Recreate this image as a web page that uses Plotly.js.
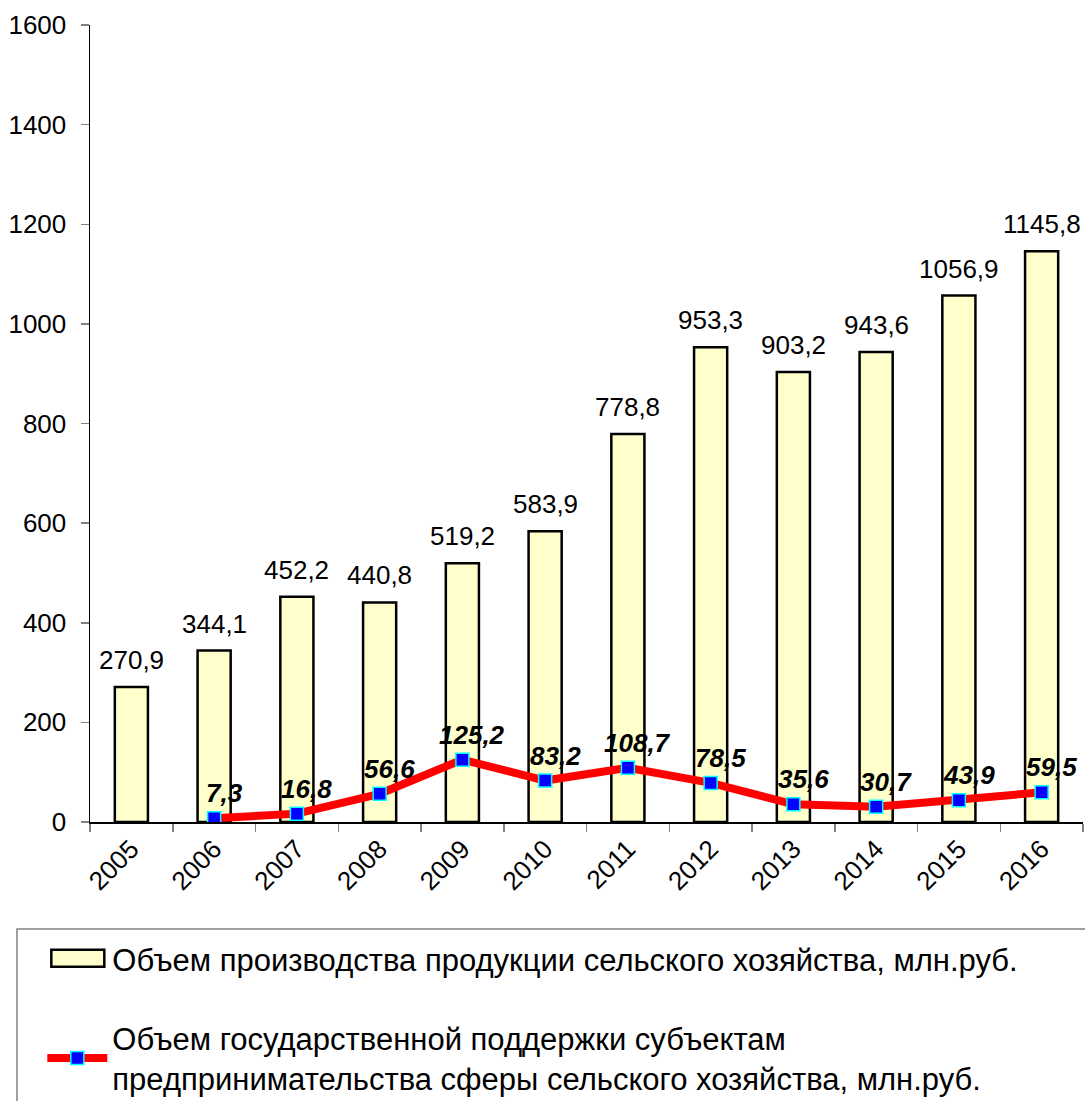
<!DOCTYPE html>
<html>
<head>
<meta charset="utf-8">
<script src="https://cdn.plot.ly/plotly-3.0.1.min.js"></script>
<style>html,body{margin:0;padding:0;background:#fff;}#chart{width:1085px;height:1101px;}</style>
</head>
<body>
<div id="chart"></div>
<script>
const years = ['2005','2006','2007','2008','2009','2010','2011','2012','2013','2014','2015','2016'];
const production = [270.9, 344.1, 452.2, 440.8, 519.2, 583.9, 778.8, 953.3, 903.2, 943.6, 1056.9, 1145.8];
const supportYears = ['2006','2007','2008','2009','2010','2011','2012','2013','2014','2015','2016'];
const support = [7.3, 16.8, 56.6, 125.2, 83.2, 108.7, 78.5, 35.6, 30.7, 43.9, 59.5];
const productionName = 'Объем производства продукции сельского хозяйства, млн.руб.';
const supportName = 'Объем государственной поддержки субъектам<br>предпринимательства сферы сельского хозяйства, млн.руб.';

const fmt = v => v.toFixed(1).replace('.', ',');
const FONT = 'Liberation Sans, Arial, sans-serif';

const traces = [
  {
    type: 'bar', x: years, y: production, name: productionName,
    legendgroup: 'a',
    marker: {color: '#FFFFCC', line: {color: '#000000', width: 2.5}},
    width: 0.4, hoverinfo: 'skip'
  },
  {
    type: 'scatter', mode: 'lines+markers', x: supportYears, y: support, name: supportName,
    legendgroup: 'b',
    line: {color: '#FF0000', width: 8},
    marker: {symbol: 'square', size: 13, color: '#0000FF', line: {color: '#00FFFF', width: 1.5}},
    hoverinfo: 'skip'
  }
];

const annotations = [];
years.forEach((yr, i) => annotations.push({
  x: years.indexOf(yr), y: production[i], xref: 'x', yref: 'y', text: fmt(production[i]),
  showarrow: false, yanchor: 'middle', yshift: 27,
  font: {family: FONT, size: 26, color: '#000'}
}));
supportYears.forEach((yr, i) => annotations.push({
  x: years.indexOf(yr), y: support[i], xref: 'x', yref: 'y', text: '<b><i>' + fmt(support[i]) + '</i></b>',
  showarrow: false, yanchor: 'middle', yshift: 25, xshift: 10,
  font: {family: FONT, size: 26, color: '#000'}
}));

const layout = {
  width: 1085, height: 1101,
  margin: {l: 90, r: 2, t: 25, b: 279, autoexpand: false},
  paper_bgcolor: '#fff', plot_bgcolor: '#fff',
  font: {family: FONT, color: '#000'},
  showlegend: true,
  xaxis: {
    type: 'category', categoryorder: 'array', categoryarray: years,
    range: [-0.5, 11.5], automargin: false,
    showline: true, linecolor: '#000', linewidth: 1.5,
    ticks: 'outside', tickson: 'boundaries', ticklen: 8, tickcolor: '#808080', tickwidth: 1.5,
    tickangle: -45, tickfont: {family: FONT, size: 26, color: '#000'},
    showgrid: false, zeroline: false
  },
  xaxis2: {
    overlaying: 'x', anchor: 'y', type: 'linear', range: [-0.5, 11.5],
    tick0: -0.5, dtick: 1, ticks: 'inside', ticklen: 8, tickcolor: '#808080', tickwidth: 1.5,
    showticklabels: false, showline: false, showgrid: false, zeroline: false, side: 'bottom'
  },
  yaxis: {
    range: [0, 1600], dtick: 200, tick0: 0, automargin: false,
    showline: true, linecolor: '#000', linewidth: 1.5,
    ticks: 'outside', ticklen: 8, tickcolor: '#808080', tickwidth: 1.5,
    ticklabelstandoff: 9,
    tickfont: {family: FONT, size: 26, color: '#000'},
    showgrid: false, zeroline: false
  },
  yaxis2: {
    overlaying: 'y', anchor: 'x', range: [0, 1600], dtick: 200, tick0: 0, side: 'left',
    ticks: 'inside', ticklen: 8, tickcolor: '#808080', tickwidth: 1.5,
    showticklabels: false, showline: false, showgrid: false, zeroline: false
  },
  legend: {
    xref: 'container', yref: 'container',
    x: 0.039, y: 1 - 932 / 1101, xanchor: 'left', yanchor: 'top',
    font: {family: FONT, size: 31, color: '#000'},
    bgcolor: 'rgba(0,0,0,0)', borderwidth: 0,
    traceorder: 'grouped', tracegroupgap: 36, itemwidth: 60
  },
  shapes: [{
    type: 'rect', xref: 'paper', yref: 'paper',
    x0: (17 - 90) / 993, x1: 1.02, y0: (822 - 929) / 797, y1: -0.6,
    line: {color: '#808080', width: 1.5}, fillcolor: 'rgba(0,0,0,0)'
  }],
  annotations: annotations
};

Plotly.newPlot('chart', traces, layout, {displayModeBar: false, staticPlot: true}).then(gd => {
  const items = gd.querySelectorAll('.legend .traces');
  if (items.length) {
    const p = items[0].querySelector('.legendpoints path');
    if (p) {
      const b = p.getBBox();
      const cx = b.x + b.width / 2, cy = b.y + b.height / 2;
      p.setAttribute('d', `M${cx - 26},${cy - 9}h53v17h-53Z`);
      p.style.strokeWidth = '2.5px';
    }
  }
});
</script>
</body>
</html>
